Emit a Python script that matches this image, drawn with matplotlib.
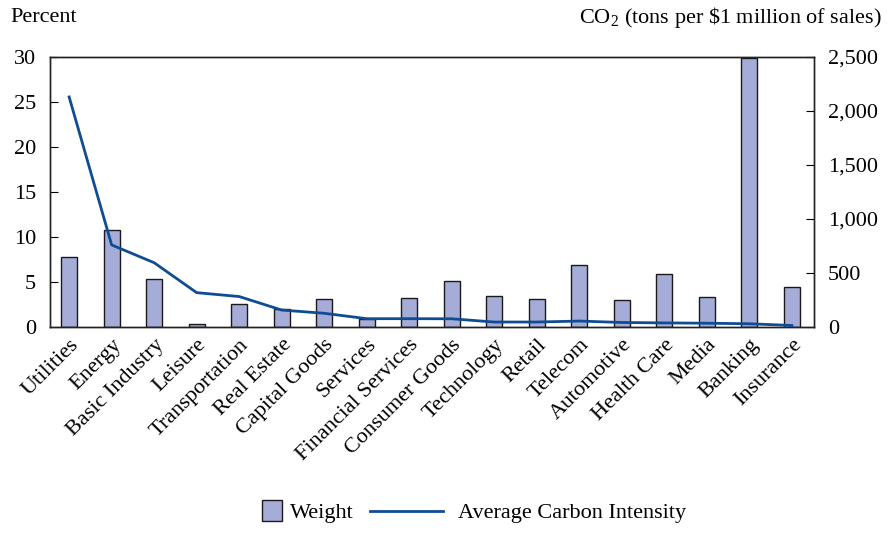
import matplotlib
matplotlib.use('Agg')
import matplotlib.pyplot as plt
import matplotlib.patches as mpatches
from matplotlib.legend_handler import HandlerPatch
from matplotlib.ticker import FuncFormatter

sectors = ['Utilities', 'Energy', 'Basic Industry', 'Leisure', 'Transportation', 'Real Estate',
           'Capital Goods', 'Services', 'Financial Services', 'Consumer Goods', 'Technology',
           'Retail', 'Telecom', 'Automotive', 'Health Care', 'Media', 'Banking', 'Insurance']
weight = [7.8, 10.8, 5.3, 0.3, 2.6, 2.0, 3.1, 0.9, 3.2, 5.1, 3.5, 3.1, 6.9, 3.0, 5.85, 3.3, 29.85, 4.4]
carbon = [2130, 760, 595, 318, 282, 157, 127, 77, 77, 76, 46, 46, 55, 42, 38, 35, 30, 14]

plt.rcParams['font.family'] = ['Liberation Serif', 'DejaVu Serif']
plt.rcParams['font.size'] = 16
plt.rcParams['mathtext.fontset'] = 'custom'
plt.rcParams['mathtext.rm'] = 'Liberation Serif'

fig = plt.figure(figsize=(8.88, 5.37), dpi=100)
ax = fig.add_axes([50/888, 1-327/537, 764/888, 270/537])
ax2 = ax.twinx()

x = list(range(len(sectors)))
bars = ax.bar(x, weight, width=0.38, color='#a5acd8', edgecolor='#1a1a1a', lw=1.0, label='Weight', zorder=2)
line, = ax2.plot(x, carbon, color='#0f4c94', lw=2, label='Average Carbon Intensity', zorder=3)

ax.set_ylim(0, 30)
ax2.set_ylim(0, 2500)
ax.set_xlim(-0.45, len(sectors) - 0.48)
ax.set_yticks([0, 5, 10, 15, 20, 25, 30])
ax2.set_yticks([0, 500, 1000, 1500, 2000, 2500])
ax2.yaxis.set_major_formatter(FuncFormatter(lambda v, p: f'{int(v):,}'))
ax.set_xticks(x)
ax.set_xticklabels(sectors, rotation=45, ha='right', rotation_mode='anchor')
ax.tick_params(axis='x', length=0, pad=6)
ax.tick_params(axis='y', direction='in', length=6, pad=10)
ax2.tick_params(axis='y', direction='in', length=6, pad=10)
for a in (ax, ax2):
    for s in a.spines.values():
        s.set_linewidth(1.0)
        s.set_color('#222222')

fig.text(10/888, 1-18/537, 'Percent', ha='left', va='center')
fig.text(882/888, 1-18/537, r'CO$_\mathrm{2}$ (tons per \$1 million of sales)', ha='right', va='center')


# square legend box for the bars, sitting close to its label
def square_patch(legend, orig_handle, xdescent, ydescent, width, height, fontsize):
    side = height * 1.3
    return mpatches.Rectangle((width - side - xdescent + 5.5, -ydescent + (height - side) / 2), side, side)


fig.legend([bars.patches[0], line], ['Weight', 'Average Carbon Intensity'], loc='center',
           bbox_to_anchor=(0.5, 1-513/537), ncol=2, frameon=False, handlelength=3.3,
           columnspacing=0.7, handletextpad=0.7,
           handler_map={mpatches.Rectangle: HandlerPatch(patch_func=square_patch)})

fig.savefig('out.png', dpi=100)
